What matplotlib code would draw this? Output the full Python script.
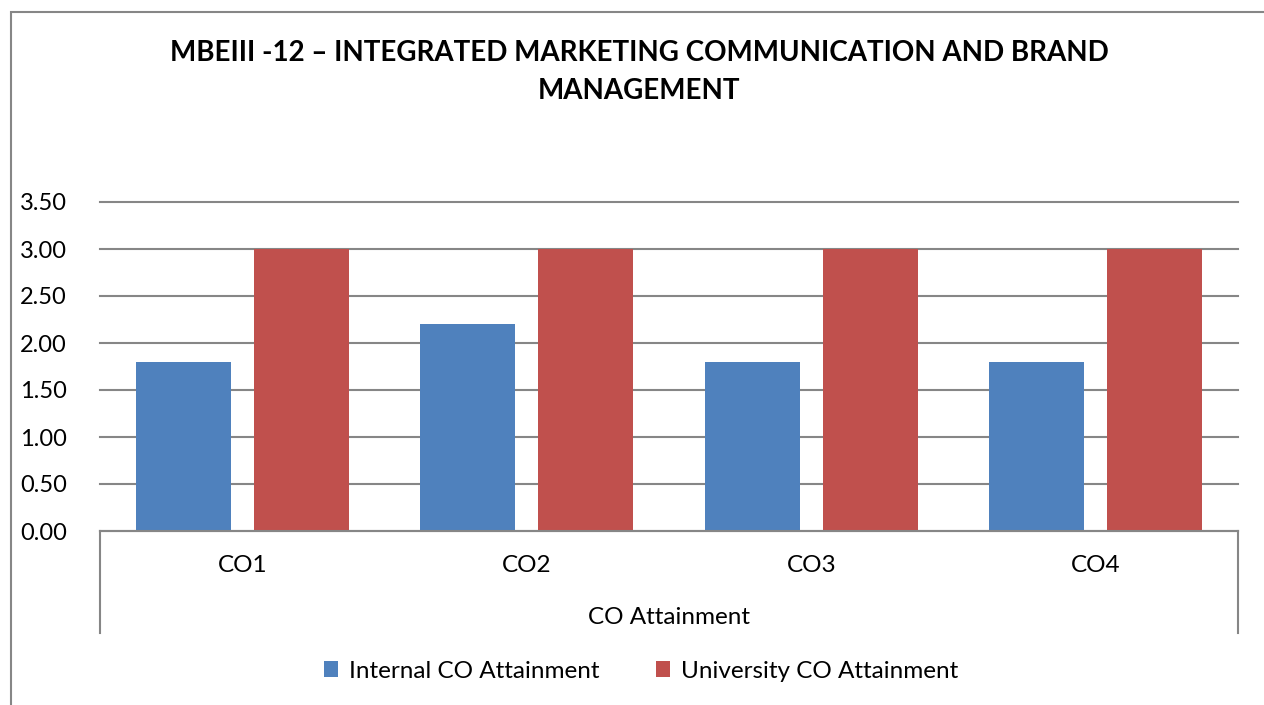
import numpy as np
import matplotlib.pyplot as plt
from matplotlib.patches import Rectangle

categories = ['CO1', 'CO2', 'CO3', 'CO4']
internal = [1.8, 2.2, 1.8, 1.8]
university = [3.0, 3.0, 3.0, 3.0]
group_label = 'CO Attainment'
title = 'MBEIII -12 \u2013 INTEGRATED MARKETING COMMUNICATION AND BRAND\nMANAGEMENT'

plt.rcParams['font.family'] = ['Lato', 'DejaVu Sans']

W, H = 1264, 705
fig = plt.figure(figsize=(W / 100, H / 100), dpi=100)

# rahmen um das ganze diagramm
fig.add_artist(Rectangle((11 / W, -0.1), 2, 1.1 - 12 / H, transform=fig.transFigure,
                         fill=False, edgecolor='#868686', linewidth=1.5))

ax = fig.add_axes([100 / W, (H - 531) / H, (1238 - 100) / W, (531 - 202) / H])

x = np.arange(len(categories))
bw = 0.334
ax.bar(x - 0.207, internal, bw, color='#4F81BD', label='Internal CO Attainment', zorder=3)
ax.bar(x + 0.207, university, bw, color='#C0504D', label='University CO Attainment', zorder=3)

ax.set_xlim(-0.5, len(categories) - 0.5)
ax.set_ylim(0, 3.5)
ax.set_yticks(np.arange(0, 3.51, 0.5))
ax.set_yticklabels([f'{v:.2f}' for v in np.arange(0, 3.51, 0.5)], fontsize=17)
ax.tick_params(axis='y', length=0, pad=24)
ax.set_xticks([])
ax.grid(axis='y', color='#868686', linewidth=1.5, zorder=0)
for gl in ax.get_ygridlines():
    gl.set_clip_on(False)
for s in ['top', 'right', 'left']:
    ax.spines[s].set_visible(False)
ax.spines['bottom'].set_color('#868686')
ax.spines['bottom'].set_linewidth(1.5)
ax.spines['bottom'].set_zorder(4)

# kategorie-beschriftung unten (zwei ebenen)
for i, c in enumerate(categories):
    fig.text((100 + (i + 0.5) * (1238 - 100) / 4) / W, 1 - 565 / H, c,
             ha='center', va='center', fontsize=17.5)
fig.text((100 + 1238) / 2 / W, 1 - 617 / H, group_label, ha='center', va='center', fontsize=17.5)
for xp in [100, 1238]:
    fig.add_artist(plt.Line2D([xp / W, xp / W], [1 - 531 / H, 1 - 633 / H],
                              color='#868686', linewidth=1.5))

fig.text(639 / W, 1 - 72 / H, title, ha='center', va='center', fontsize=20,
         fontweight='bold', linespacing=1.6)

fig.legend(loc='center', bbox_to_anchor=(641 / W, 1 - 671 / H), ncol=2, frameon=False,
           fontsize=17.5, handlelength=0.6, handleheight=0.6, handletextpad=0.45,
           columnspacing=2.3)

fig.savefig('out.png', dpi=100)
